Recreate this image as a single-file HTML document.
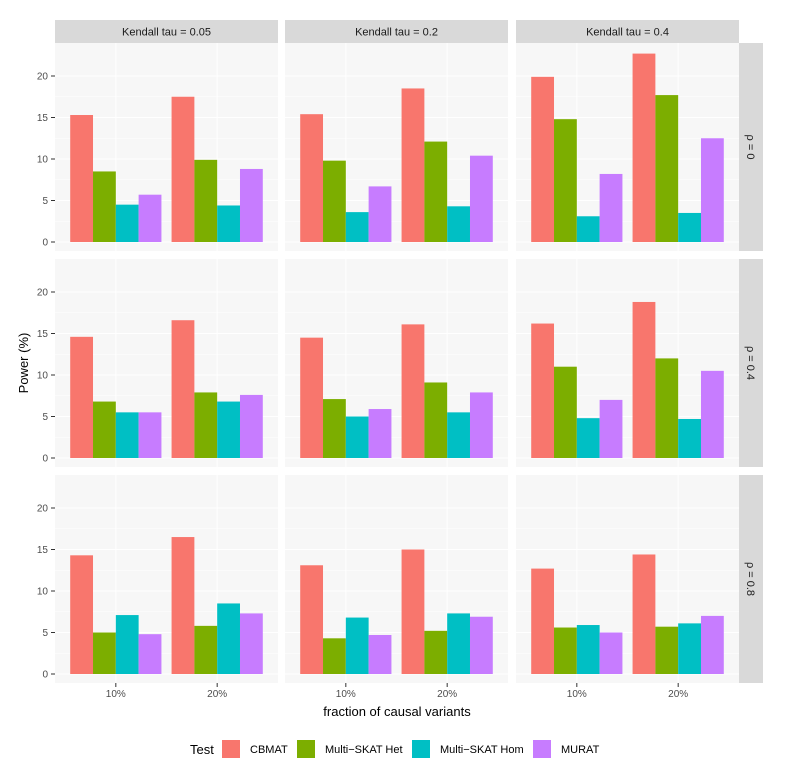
<!DOCTYPE html>
<html><head><meta charset="utf-8"><style>
body{margin:0;background:#fff;font-family:"Liberation Sans",sans-serif}
</style></head><body>
<svg id="c" width="787" height="768" xmlns="http://www.w3.org/2000/svg" font-family="Liberation Sans, sans-serif"></svg>
<script>
const columns=["Kendall tau = 0.05","Kendall tau = 0.2","Kendall tau = 0.4"];
const rows=["ρ = 0","ρ = 0.4","ρ = 0.8"];
const categories=["10%","20%"];
const tests=["CBMAT","Multi−SKAT Het","Multi−SKAT Hom","MURAT"];
const colors=["#F8766D","#7CAE00","#00BFC4","#C77CFF"];
const yTicks=[0,5,10,15,20];
// values[row][col][category] = [CBMAT, Het, Hom, MURAT]
const cbmat=[[[15.3,17.5],[15.4,18.5],[19.9,22.7]],[[14.6,16.6],[14.5,16.1],[16.2,18.8]],[[14.3,16.5],[13.1,15.0],[12.7,14.4]]];
const het=[[[8.5,9.9],[9.8,12.1],[14.8,17.7]],[[6.8,7.9],[7.1,9.1],[11.0,12.0]],[[5.0,5.8],[4.3,5.2],[5.6,5.7]]];
const hom=[[[4.5,4.4],[3.6,4.3],[3.1,3.5]],[[5.5,6.8],[5.0,5.5],[4.8,4.7]],[[7.1,8.5],[6.8,7.3],[5.9,6.1]]];
const murat=[[[5.7,8.8],[6.7,10.4],[8.2,12.5]],[[5.5,7.6],[5.9,7.9],[7.0,10.5]],[[4.8,7.3],[4.7,6.9],[5.0,7.0]]];
const series=[cbmat,het,hom,murat];

const svg=document.getElementById('c');const NS="http://www.w3.org/2000/svg";
function el(t,a,txt){const e=document.createElementNS(NS,t);for(const k in a)e.setAttribute(k,a[k]);if(txt!=null)e.textContent=txt;svg.appendChild(e);return e;}
const colX=[55,285,516],PW=223,rowY=[43,259,475],PH=208;
function xScale(c,i){return colX[c]+(i+1-0.4)*(PW/2.2);}
function yScale(r,v){return rowY[r]+PH-9-v*8.3;}
const bw=0.9*(PW/2.2)/4;
for(let c=0;c<3;c++){
  const s=el('rect',{x:colX[c],y:20,width:PW,height:23,fill:'#D9D9D9'});
  
  const t=el('text',{x:colX[c]+PW/2,y:35.5,'text-anchor':'middle','font-size':11,fill:'#1A1A1A'},columns[c]);
  
}
for(let r=0;r<3;r++){
  const s=el('rect',{x:739,y:rowY[r],width:24,height:PH,fill:'#D9D9D9'});
  
  const t=el('text',{x:0,y:0,transform:`translate(747,${rowY[r]+PH/2}) rotate(90)`,'text-anchor':'middle','font-size':11,fill:'#1A1A1A'},rows[r]);
  
  for(let c=0;c<3;c++){
    const p=el('rect',{x:colX[c],y:rowY[r],width:PW,height:PH,fill:'#F7F7F7'});
    
    for(let k=0;k<yTicks.length;k++){
      const g=el('line',{x1:colX[c],x2:colX[c]+PW,y1:yScale(r,yTicks[k]),y2:yScale(r,yTicks[k]),stroke:'#fff','stroke-width':1});
      
      if(k<yTicks.length-1){const m=el('line',{x1:colX[c],x2:colX[c]+PW,y1:yScale(r,yTicks[k]+2.5),y2:yScale(r,yTicks[k]+2.5),stroke:'#fff','stroke-width':0.5});
      }
    }
    for(let i=0;i<2;i++){
      const gl=el('line',{x1:xScale(c,i),x2:xScale(c,i),y1:rowY[r],y2:rowY[r]+PH,stroke:'#fff'});
      
      for(let s2=0;s2<4;s2++){
        const v=series[s2][r][c][i];
        const x=xScale(c,i)-2*bw+s2*bw;
        const b=el('rect',{x:x,y:yScale(r,v),width:bw,height:yScale(r,0)-yScale(r,v),fill:colors[s2]});
        
      }
    }
    if(c===0){
      for(const v of yTicks){
        const tk=el('line',{x1:51,x2:55,y1:yScale(r,v),y2:yScale(r,v),stroke:'#333'});
        
        const tl=el('text',{x:48,y:yScale(r,v)+3.5,'text-anchor':'end','font-size':10,fill:'#4D4D4D'},v);
        
      }
    }
    if(r===2){
      for(let i=0;i<2;i++){
        const tk=el('line',{x1:xScale(c,i),x2:xScale(c,i),y1:683,y2:687,stroke:'#333'});
        
        const tl=el('text',{x:xScale(c,i),y:697,'text-anchor':'middle','font-size':10,fill:'#4D4D4D'},categories[i]);
        
      }
    }
  }
}
const xt=el('text',{x:397,y:716,'text-anchor':'middle','font-size':13,fill:'#000'},'fraction of causal variants');

const yt=el('text',{x:0,y:0,transform:'translate(28,363) rotate(-90)','text-anchor':'middle','font-size':13,fill:'#000'},'Power (%)');

const lt=el('text',{x:190,y:754,'font-size':13,fill:'#000'},'Test');

const lx=[222,297,412,533];
for(let s2=0;s2<4;s2++){
  const k=el('rect',{x:lx[s2],y:740,width:18,height:18,fill:colors[s2]});
  
  const t=el('text',{x:lx[s2]+28,y:753,'font-size':11,fill:'#000'},tests[s2]);
  
}
</script>
</body></html>
